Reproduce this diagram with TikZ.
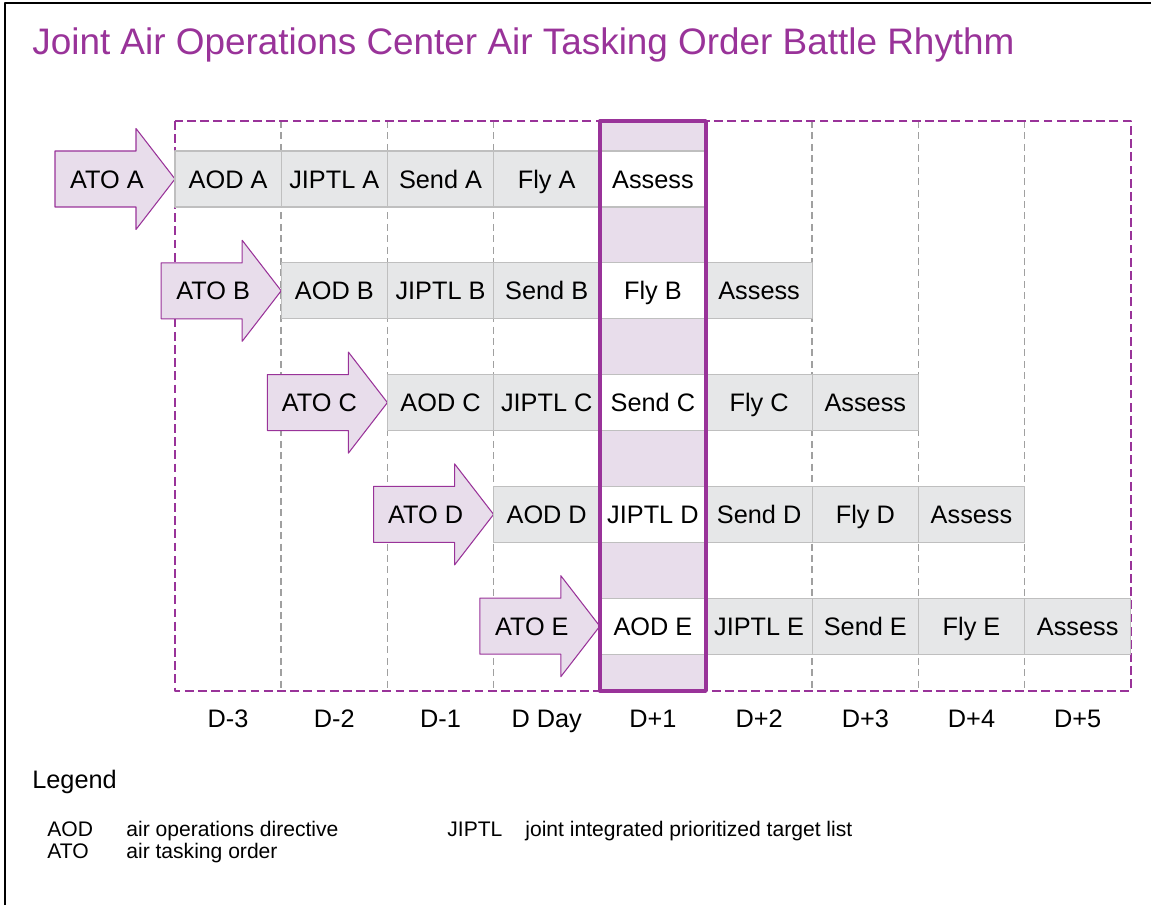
\documentclass[tikz,border=0pt]{standalone}
\usepackage{fontspec}
\setmainfont{Liberation Sans}
\definecolor{jpurple}{RGB}{153,51,153}
\definecolor{jlilac}{RGB}{232,221,235}
\definecolor{cellgray}{RGB}{230,231,232}
\definecolor{cellline}{RGB}{191,191,191}
\definecolor{gridgray}{RGB}{160,160,160}
\begin{document}
\begin{tikzpicture}[x=0.02cm, y=-0.02cm, line join=round,
	cell/.style={draw=cellline, line width=0.6pt, minimum width=2.124cm, minimum height=1.12cm,
		inner sep=0pt, text height=10.3pt, text depth=0pt, font=\fontsize{14.4}{16}\selectfont},
	atoarrow/.style={draw=jpurple, fill=jlilac, line width=0.6pt},
	daylabel/.style={inner sep=0pt, text height=10.3pt, text depth=0pt, font=\fontsize{14.4}{16}\selectfont},
	legendtext/.style={anchor=base west, inner sep=0pt, font=\fontsize{12}{14}\selectfont}]
	\def\cw{106.2}
	\def\rh{111.8}
	\def\xl{175}
	\useasboundingbox (0,0) rectangle (1151,905);
	\draw[line width=1.2pt] (5,905)--(5,3)--(1151,3);
	\node[anchor=base west, inner sep=0pt, text=jpurple, font=\fontsize{21}{25}\selectfont] (title) at (32,55)
		{Joint Air Operations Center Air Tasking Order Battle Rhythm};
	% today column and grid
	\fill[jlilac] (\xl+4*\cw,121) rectangle (\xl+5*\cw,691);
	\foreach \i in {1,...,8}\draw[gridgray, line width=0.9pt, dash pattern=on 4pt off 2.5pt] (\xl+\i*\cw,121)--(\xl+\i*\cw,691);
	\draw[jpurple, line width=0.9pt, dash pattern=on 5pt off 2.5pt] (\xl,121) rectangle (\xl+9*\cw,691);
	% one row per ATO
	\foreach \L [count=\r from 0] in {A,B,C,D,E}{
		\pgfmathsetmacro\yc{179+\r*\rh}
		\pgfmathsetmacro\xt{\xl+\r*\cw}
		\draw[atoarrow] (\xt-120,\yc-28)--(\xt-39,\yc-28)--(\xt-39,\yc-50.5)--(\xt,\yc)
			--(\xt-39,\yc+50.5)--(\xt-39,\yc+28)--(\xt-120,\yc+28)--cycle;
		\node[daylabel] (ato-\L) at (\xt-68,\yc) {ATO \L};
		\foreach \t [count=\k from 0] in {AOD \L, JIPTL \L, Send \L, Fly \L, Assess}{
			\pgfmathtruncatemacro\c{\r+\k}
			\ifnum\c=4 \def\cf{white}\else\def\cf{cellgray}\fi
			\node[cell, fill=\cf] (cell-\L-\k) at (\xl+\c*\cw+\cw/2,\yc) {\t};
		}
	}
	\draw[jpurple, line width=2pt] (\xl+4*\cw,121) rectangle (\xl+5*\cw,691);
	% days
	\foreach \d [count=\i from 0] in {D-3,D-2,D-1,D Day,D+1,D+2,D+3,D+4,D+5}
		\node[daylabel] (day-\i) at (\xl+\i*\cw+\cw/2,718) {\d};
	% legend
	\node[anchor=base west, inner sep=0pt, font=\fontsize{14.4}{16}\selectfont] (legend) at (32,788) {Legend};
	\node[legendtext] (aod) at (47,836) {AOD};
	\node[legendtext] (aod-text) at (126,836) {air operations directive};
	\node[legendtext] (ato) at (47,858) {ATO};
	\node[legendtext] (ato-text) at (126,858) {air tasking order};
	\node[legendtext] (jiptl) at (447,836) {JIPTL};
	\node[legendtext] (jiptl-text) at (525,836) {joint integrated prioritized target list};
\end{tikzpicture}
\end{document}
